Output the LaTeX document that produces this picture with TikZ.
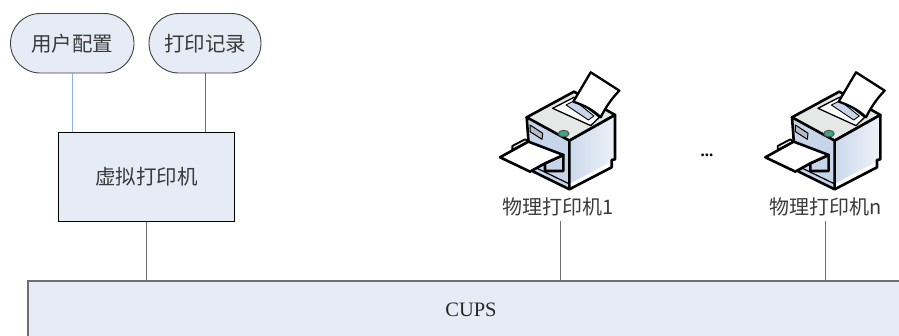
\documentclass[tikz,border=0pt]{standalone}
\usepackage{fontspec}
\setmainfont{Liberation Serif}
\newfontfamily\cjk{Noto Sans CJK SC}
\usetikzlibrary{shapes.misc}
\definecolor{panel}{HTML}{E6ECF6}
\definecolor{txt}{HTML}{3A3A3A}
\definecolor{edgegrey}{HTML}{6E6E6E}
\definecolor{wireblue}{HTML}{8DB0DE}
\definecolor{ledgreen}{HTML}{3FA77F}
\definecolor{pfront}{HTML}{C6D5EA}
\definecolor{pside}{HTML}{CBD9EC}
\definecolor{pside2}{HTML}{EEF2F8}
\definecolor{ptop}{HTML}{E4E9E8}
\tikzset{
  basebox/.style={fill=panel,inner sep=0pt,text=txt,font=\cjk\fontsize{20.5}{22}\selectfont},
  pill/.style={basebox,draw=black!75,line width=.9pt,rounded rectangle,rounded rectangle arc length=180,minimum height=59.5pt},
  mainbox/.style={basebox,draw=black,line width=1pt,rectangle,minimum width=176.5pt,minimum height=88.5pt},
  busbox/.style={basebox,draw=edgegrey,line width=1.1pt,rectangle,minimum width=900pt,minimum height=70pt},
  plabel/.style={inner sep=0pt,text=txt,minimum height=28pt,font=\cjk\fontsize{20}{22}\selectfont},
  wire/.style={draw=edgegrey,line width=.9pt},
  pink/.style={line width=2.6pt,draw=black,line join=round},
  printer/.pic={
    \begin{scope}[shift={(-332,-37)},line join=round]
      % top face
      \draw[pink,fill=ptop] (140,172) -- (282,95) -- (405,165) -- (268,242) .. controls (220,225) and (175,200) .. (140,172) -- cycle;
      % paper slot
      \draw[line width=1.3pt,fill=white] (218,145) -- (282,112) -- (358,172) -- (332,197) -- cycle;
      \draw[line width=.9pt,fill=pfront] (258,135) -- (284,122) -- (342,168) -- (325,180) -- cycle;
      % paper
      \draw[line width=2.3pt,fill=white] (280,125) -- (332,37) -- (418,92) .. controls (395,115) and (375,145) .. (362,172) .. controls (340,150) and (310,135) .. (280,125) -- cycle;
      % right face
      \shade[left color=pside,right color=pside2] (268,242) -- (405,165) -- (400,300) -- (268,385) -- cycle;
      \fill[white] (268,372) -- (395,305) -- (395,312) -- (268,385) -- cycle;
      \draw[pink] (268,242) -- (405,165) -- (405,298) -- (395,300) -- (395,322) -- (268,388);
      % front face
      \draw[pink,fill=pfront] (140,172) -- (268,242) -- (268,388) -- (160,335) -- (145,240) -- cycle;
      \draw[line width=1.2pt] (165,322) -- (268,372);
      % control panel
      \draw[line width=1pt,fill=gray!45!panel] (150,195) -- (188,220) -- (186,238) -- (150,215) -- cycle;
      % LED
      \draw[line width=.9pt,draw=black!70,fill=ledgreen] (251,221) ellipse (16 and 10);
      % output tray and paper
      \draw[line width=1.8pt,fill=panel] (97,270) -- (97,258) -- (135,238) -- (145,245) -- cycle;
      \draw[pink,fill=pfront] (195,310) -- (250,285) -- (250,333) -- (195,333) -- cycle;
      \draw[pink,fill=white] (60,292) -- (145,245) -- (250,285) -- (195,310) -- (150,335) -- cycle;
    \end{scope}
  }
}
\begin{document}
\begin{tikzpicture}[x=1pt,y=-1pt]
  \useasboundingbox (0,0) rectangle (899,335);
  \clip (0,0) rectangle (899,335);
  \node[pill,minimum width=123.5pt] (user) at (72.25,43.25) {用户配置};
  \node[pill,minimum width=112pt] (log) at (205,43.25) {打印记录};
  \node[mainbox] (vp) at (146.25,176.75) {虚拟打印机};
  \node[busbox] (bus) at (478,316) {};
  \node[inner sep=0pt,text=black!85,font=\fontsize{20.5}{22}\selectfont] (cups) at (471,310) {CUPS};
  \node[plabel] (p1) at (560,207) {\hspace*{-3pt}物理打印机1};
  \node[plabel] (pn) at (825.5,207) {物理打印机n};
  \node[inner sep=0pt,font=\bfseries\fontsize{17}{18}\selectfont] (dots) at (707,155) {...};
  \pic[scale=1/3] (pa) at (590.7,72.3) {printer};
  \pic[scale=1/3] (pb) at (856,72.3) {printer};
  \draw[wire,draw=wireblue] (user.south) -- (user.south |- vp.north);
  \draw[wire] (log.south) -- (log.south |- vp.north);
  \draw[wire] (vp.south) -- (vp.south |- bus.north);
  \draw[wire] (p1.south) -- (p1.south |- bus.north);
  \draw[wire] (pn.south) -- (pn.south |- bus.north);
\end{tikzpicture}
\end{document}
